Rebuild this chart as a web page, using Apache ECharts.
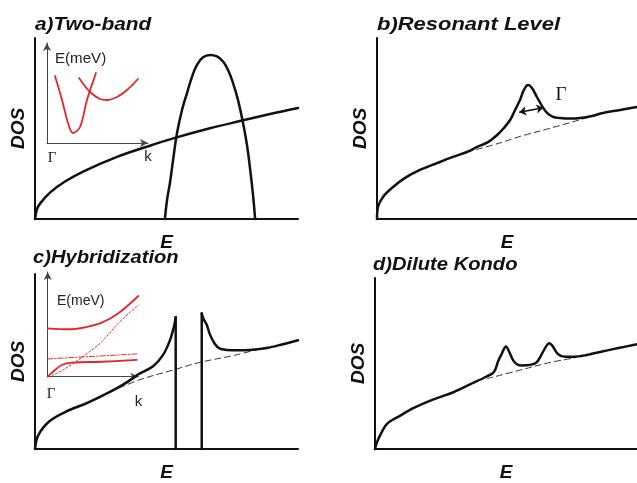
<!DOCTYPE html>
<html><head><meta charset="utf-8">
<script src="https://cdn.jsdelivr.net/npm/echarts@6/dist/echarts.min.js"></script>
<style>html,body{margin:0;padding:0;background:#fff}#c{width:637px;height:483px}</style>
</head><body><div id="c"></div>
<script>
// ---- Panel a: Two-band ----
const aBase = [[0,0],[0.76,5.4],[1.9,8.5],[5.7,14.6],[11.4,20.7],[18.3,26.2],[31.2,34.3],[43.7,40.5],[53.2,44.8],[66.5,50.1],[77.9,54.1],[89.4,58.0],[100,61.3]];
const aBand = [[49.4,0],[50.2,10.5],[51.3,19.9],[52.5,32.6],[54.0,47.5],[55.9,60.2],[57.8,69.6],[59.7,78.5],[61.6,85.2],[63.9,89.3],[66.5,90.6],[69.2,89.8],[71.5,87.0],[73.4,82.3],[75.3,75.1],[77.2,65.7],[79.1,53.0],[80.6,40.9],[81.7,28.7],[82.9,13.3],[83.7,0]];
const aInsetBand1 = [[7.9,67],[14.9,43],[20.8,20],[25.7,10],[32.7,16],[39.6,43],[48.5,70]];
const aInsetBand2 = [[31.7,65],[42.6,51],[52.5,44],[59.4,43],[69.3,46],[79.2,53],[90.1,64]];
// ---- Panel b: Resonant level ----
const bDos = [[0,0],[0.38,6.6],[2.3,12.2],[6.2,17.7],[10.8,22.7],[16.5,27.1],[23.1,30.9],[29.2,34.3],[34.6,37.0],[38.5,39.8],[42.7,42.5],[46.2,46.4],[48.8,50.3],[51.2,54.7],[53.1,60.2],[55.0,65.7],[56.5,71.3],[58.1,74.0],[59.6,72.4],[61.5,67.4],[63.5,62.4],[65.4,58.6],[67.7,56.4],[70.4,55.8],[74.2,55.5],[78.1,55.8],[82.7,56.9],[86.9,58.6],[93.5,60.2],[100,61.9]];
const bBare = [[34.6,37.0],[47.3,42.0],[55.0,45.6],[67.7,50.6],[83.1,56.9]];
const bWidth = [[54.7,59.0],[64.0,61.5]];
// ---- Panel c: Hybridization ----
const cLower = [[0,0],[1.25,7.9],[5.7,16.1],[12.1,21.6],[19.7,26.2],[28.5,32.6],[34.9,38.1],[39.3,42.7],[44.9,47.3],[48.7,53.8],[51.3,62.1],[52.9,70.3],[53.5,75.3]];
const cUpper = [[63.4,77.5],[64.0,74.5],[65.3,71.0],[66.5,65.5],[68.4,60.0],[70.3,57.3],[73,56.6],[77,56.4],[81.7,56.6],[88.2,57.7],[94.3,59.9],[100,62.1]];
const cBare = [[28.5,32.6],[39.9,39.6],[53.6,45.6],[62.7,49.5],[76.0,53.6],[88.2,58.3]];
const cInUpper = [[0,46.2],[22.7,45.3],[41.2,47.2],[59.6,51.6],[78.0,60.6],[100,77.1]];
const cInLower = [[0,0],[8.1,6.4],[15.5,11.2],[26.5,13.4],[59.6,14.3],[98.2,16.0]];
const cInLocal = [[0,17.0],[100,21.8]];
const cInCond = [[4.7,0.7],[16.9,6.4],[22.7,9.6],[41.2,20.7],[59.6,33.4],[77.9,51.0],[100,68.5]];
// ---- Panel d: Dilute Kondo ----
const dDos = [[0,0],[0.65,3.5],[1.9,7.8],[4.5,14.6],[9.5,19.4],[14.6,23.9],[22.1,28.9],[29.9,33.2],[36.3,37.8],[42.6,42.4],[45.4,45.0],[47.1,51.7],[48.5,56.1],[50.0,60.0],[51.1,57.2],[52.8,51.7],[54.6,49.2],[56.0,48.9],[59.2,49.2],[61.7,50.7],[63.7,55.6],[65.3,60.0],[66.5,61.8],[67.6,60.6],[69.9,55.4],[72.5,53.9],[75.7,53.9],[80.9,55.0],[87.1,57.2],[93.5,59.2],[100,61.3]];
const dBare = [[42.7,41.1],[55.3,46.1],[66.8,50.6],[76.3,53.3]];

const titles = ['a)Two-band','b)Resonant Level','c)Hybridization','d)Dilute Kondo'];

const BLACK = '#111', RED = '#e4262b';
const grids = [
  {left:35, top:38, width:263, height:181},
  {left:47, top:43, width:101, height:100},
  {left:377, top:38, width:260, height:181},
  {left:35, top:274, width:263, height:182},
  {left:47.7, top:272, width:90.6, height:104.7},
  {left:375, top:278, width:262, height:180}
];
const isInset = [false,true,false,false,true,false];
const nameStyle = {fontSize:19, fontWeight:'bold', fontStyle:'italic', fontFamily:'Liberation Sans', color:BLACK};
function axis(i, dir){
  const inset = isInset[i];
  const a = {gridIndex:i, type:'value', min:0, max:100,
    axisTick:{show:false}, axisLabel:{show:false}, splitLine:{show:false},
    axisLine:{show:true, onZero:false, lineStyle: inset ? {color:'#444', width:1} : {color:BLACK, width:2}}};
  if (inset) { a.axisLine.symbol = ['none','arrow']; a.axisLine.symbolSize = [6,8]; }
  else if (dir==='x') { a.name='E'; a.nameLocation='middle'; a.nameGap=14; a.nameTextStyle=Object.assign({verticalAlign:'top'},nameStyle); }
  else { a.name='DOS'; a.nameLocation='middle'; a.nameRotate=90; a.nameGap=7; a.nameTextStyle=nameStyle; }
  return a;
}
function line(data, gi, color, width, type, extra){
  return Object.assign({type:'line', xAxisIndex:gi, yAxisIndex:gi, data:data, symbol:'none', showSymbol:false,
    smooth:0.35, silent:true, animation:false, clip:false,
    lineStyle:{color:color, width:width, type:type||'solid', cap:'round', join:'round'}}, extra||{});
}
const dash = [6,4];
const series = [
  line(aBase,0,BLACK,2.5), line(aBand,0,BLACK,2.5,'solid',{smooth:0.45}),
  line(aInsetBand1,1,RED,1.8), line(aInsetBand2,1,RED,1.8),
  line(bBare,2,'#333',1,dash), line(bDos,2,BLACK,2.5),
  {type:'lines', coordinateSystem:'cartesian2d', xAxisIndex:2, yAxisIndex:2, silent:true, animation:false,
    symbol:['arrow','arrow'], symbolSize:7, lineStyle:{color:BLACK, width:1.5, opacity:1},
    data:[{coords:bWidth}]},
  line(cBare,3,'#333',1,dash), line(cLower,3,BLACK,2.5),
  line([cLower[cLower.length-1],[cLower[cLower.length-1][0],0]],3,BLACK,2.5,'solid',{smooth:false}),
  line([[cUpper[0][0],0],cUpper[0]],3,BLACK,2.5,'solid',{smooth:false}),
  line(cUpper,3,BLACK,2.5),
  line(cInUpper,4,RED,1.8), line(cInLower,4,RED,1.8), line(cInLocal,4,RED,1,[5,2,1.5,2]), line(cInCond,4,RED,1,[2,2]),
  line(dBare,5,'#333',1,dash), line(dDos,5,BLACK,2.5)
];
function txt(s, x, y, o){
  return Object.assign({type:'text', x:x, y:y, silent:true, style:Object.assign({text:s, fill:BLACK, verticalAlign:'middle', align:'left'}, o.style)}, o.el||{});
}
const tStyle = {fontSize:18, fontWeight:'bold', fontStyle:'italic', fontFamily:'Liberation Sans'};
const graphic = [
  txt(titles[0],35,25,{style:tStyle, el:{scaleX:1.16}}),
  txt(titles[1],377,25,{style:tStyle, el:{scaleX:1.22}}),
  txt(titles[2],33,258,{style:tStyle, el:{scaleX:1.12}}),
  txt(titles[3],373,265,{style:tStyle, el:{scaleX:1.12}}),
  txt('E(meV)',55,59,{style:{fontSize:14, fontFamily:'Liberation Sans', fill:'#222'}, el:{scaleX:1.08}}),
  txt('E(meV)',57,301,{style:{fontSize:14, fontFamily:'Liberation Sans', fill:'#222'}, el:{scaleX:1.0}}),
  txt('Γ',52,158,{style:{fontSize:15, fontFamily:'Liberation Serif', fill:'#222', align:'center'}}),
  txt('k',148,157,{style:{fontSize:15, fontFamily:'Liberation Sans', fill:'#222', align:'center'}}),
  txt('Γ',51,394,{style:{fontSize:15, fontFamily:'Liberation Serif', fill:'#222', align:'center'}}),
  txt('k',138.5,402,{style:{fontSize:15, fontFamily:'Liberation Sans', fill:'#222', align:'center'}}),
  txt('Γ',561,95,{style:{fontSize:19, fontFamily:'Liberation Serif', fill:BLACK, align:'center'}})
];
const chart = echarts.init(document.getElementById('c'), null, {renderer:'canvas'});
chart.setOption({
  animation:false, backgroundColor:'#fff',
  grid: grids,
  xAxis: grids.map((g,i)=>axis(i,'x')),
  yAxis: grids.map((g,i)=>axis(i,'y')),
  series: series,
  graphic: graphic
});
</script></body></html>
